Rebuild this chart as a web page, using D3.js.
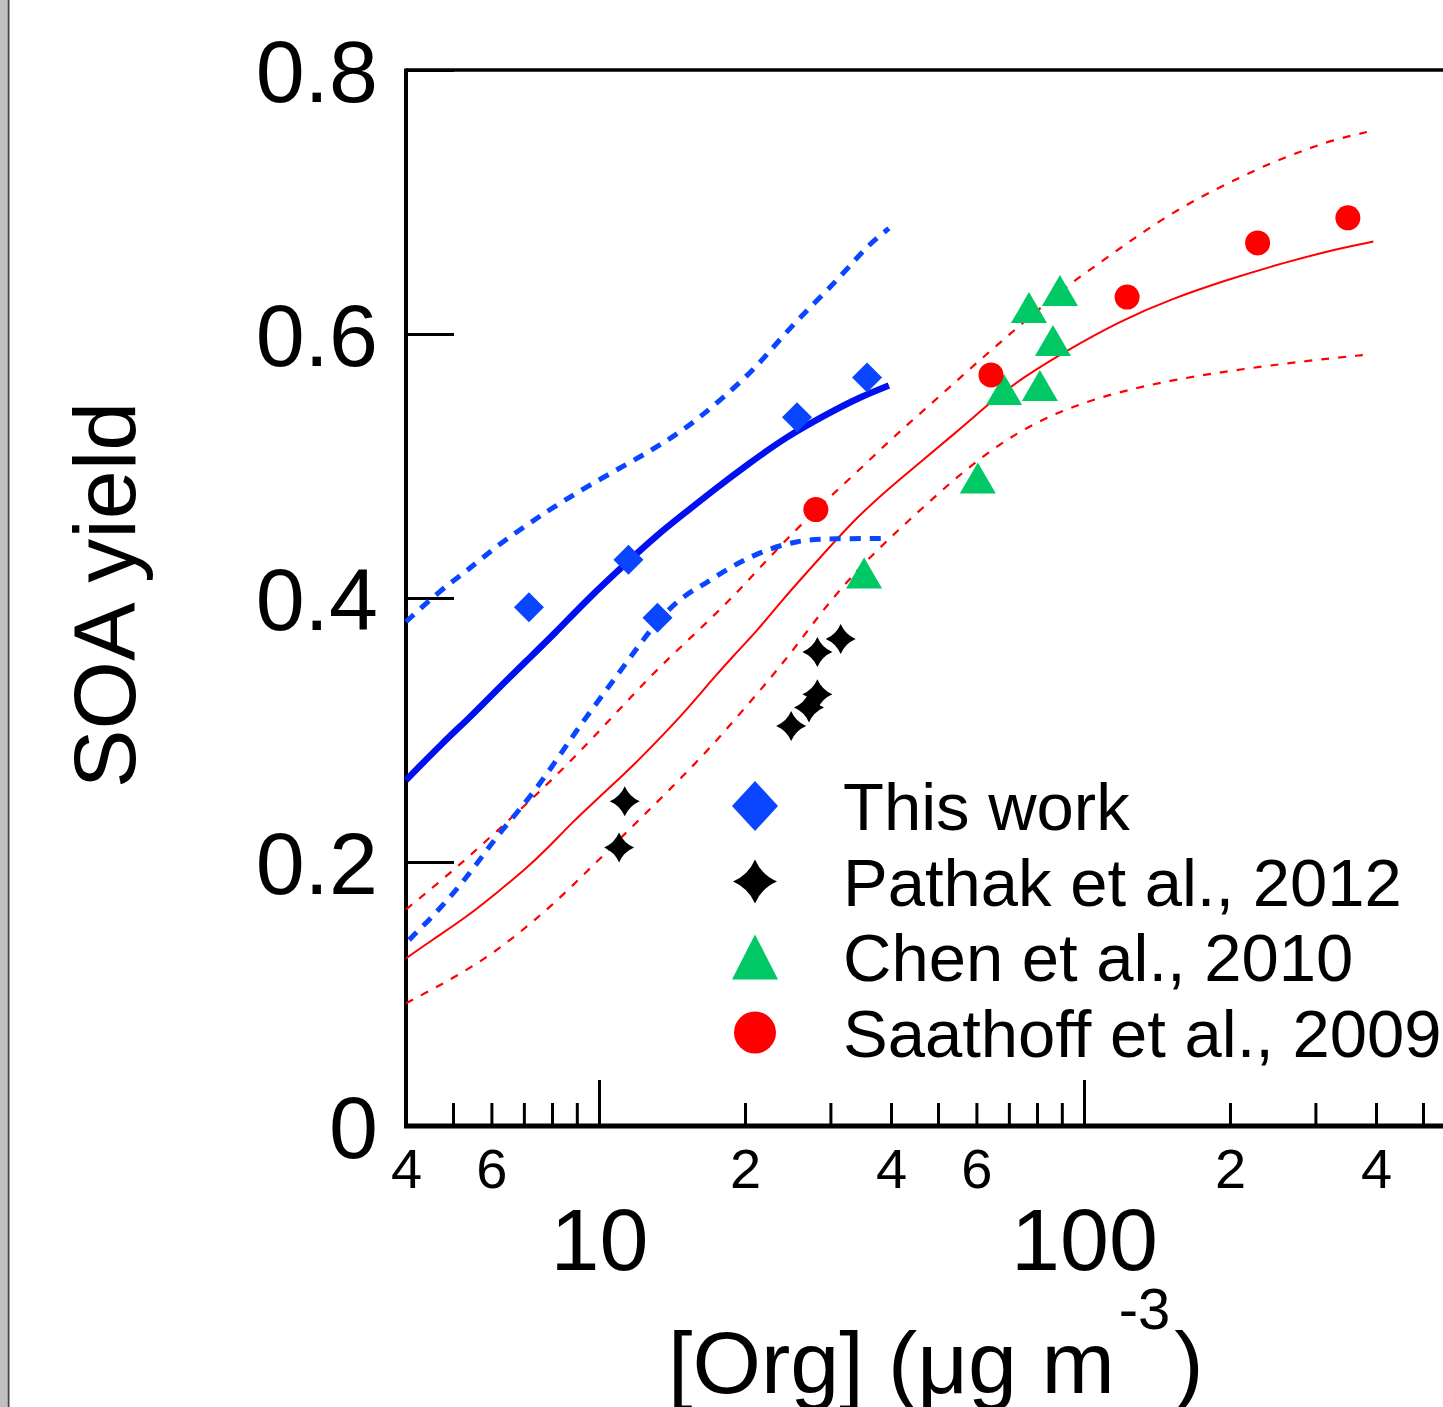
<!DOCTYPE html>
<html>
<head>
<meta charset="utf-8">
<script src="https://d3js.org/d3.v7.min.js"></script>
<style>
    html, body { margin: 0; padding: 0; background: #fff; }
    svg { display: block; font-family: "Liberation Sans", Arial, sans-serif; }
    .axis path.domain { display: none; }
    .axis line { stroke: #000; stroke-width: 3px; }
    .axis text { fill: #000; }
</style>
</head>
<body>
<svg id="chart" width="1443" height="1407"></svg>
<script>
// ---- data: [Org] (ug m-3), SOA yield ----
var thisWork = [[7.17, 0.393], [11.5, 0.429], [13.2, 0.385], [25.6, 0.537], [35.7, 0.567]];
var pathak = [[11.3, 0.246], [11.0, 0.211], [24.9, 0.303], [27.1, 0.317], [28.2, 0.327], [28.2, 0.359], [31.5, 0.369]];
var chen = [[35.2, 0.419], [60.4, 0.491], [68.4, 0.558], [81.1, 0.561], [77.0, 0.620], [86.3, 0.595], [89.2, 0.633]];
var saathoff = [[28.0, 0.467], [64.3, 0.569], [122.7, 0.628], [228, 0.669], [350, 0.688]];

// fitted curves (this work, blue) and confidence bands
var blueFit = [[4.0, 0.262], [4.75, 0.290], [5.47, 0.311], [6.22, 0.332], [7.07, 0.352], [8.15, 0.374],
    [9.4, 0.398], [11.5, 0.428], [13.1, 0.447], [15.1, 0.465], [17.4, 0.483], [20.4, 0.502],
    [24.3, 0.522], [29.4, 0.539], [34.4, 0.552], [39.6, 0.561]];
var blueUpper = [[4.0, 0.382], [4.75, 0.407], [5.32, 0.420], [6.13, 0.439], [7.27, 0.458], [8.0, 0.468],
    [9.4, 0.484], [11.5, 0.502], [13.7, 0.518], [16.1, 0.536], [20.1, 0.567], [22.4, 0.586],
    [25.5, 0.610], [31.3, 0.642], [35.5, 0.666], [39.6, 0.680]];
var blueLower = [[4.06, 0.141], [4.72, 0.165], [5.44, 0.192], [6.13, 0.219], [7.07, 0.245], [8.0, 0.272],
    [8.96, 0.299], [10.1, 0.325], [11.5, 0.353], [13.3, 0.385], [15.1, 0.403], [16.6, 0.411],
    [18.2, 0.421], [21.4, 0.435], [25.8, 0.444], [30.2, 0.445], [39.6, 0.445]];

// fitted curves (literature, red) and confidence bands
var redFit = [[4.0, 0.127], [4.53, 0.141], [5.32, 0.158], [6.22, 0.178], [7.07, 0.195], [7.77, 0.209],
    [8.8, 0.230], [10.0, 0.249], [11.7, 0.272], [13.7, 0.298], [15.3, 0.317], [17.1, 0.338],
    [18.8, 0.355], [21.4, 0.377], [23.8, 0.398], [28.0, 0.427], [33.9, 0.461], [41.0, 0.488],
    [55.2, 0.527], [64.9, 0.550], [74.8, 0.567], [92.6, 0.588], [119, 0.610], [150, 0.626],
    [197, 0.641], [258, 0.654], [337, 0.665], [395, 0.670]];
var redUpper = [[4.0, 0.164], [4.84, 0.189], [5.66, 0.211], [6.62, 0.234], [7.63, 0.255], [8.88, 0.279],
    [10.3, 0.304], [11.9, 0.329], [13.7, 0.352], [16.1, 0.376], [18.8, 0.400], [21.7, 0.425],
    [25.5, 0.452], [29.4, 0.474], [34.4, 0.497], [40.2, 0.521], [47.0, 0.543], [55.2, 0.566],
    [64.9, 0.589], [76.3, 0.611], [89.7, 0.633], [105, 0.651], [124, 0.670], [145, 0.687],
    [174, 0.704], [208, 0.718], [244, 0.730], [283, 0.739], [326, 0.747], [383, 0.753]];
var redLower = [[4.0, 0.093], [4.84, 0.109], [5.85, 0.127], [6.84, 0.146], [8.0, 0.167], [9.4, 0.192],
    [11.0, 0.217], [12.9, 0.242], [14.8, 0.264], [17.1, 0.288], [19.7, 0.314], [22.8, 0.341],
    [25.8, 0.366], [29.4, 0.394], [34.4, 0.423], [40.2, 0.447], [47.0, 0.470], [56.0, 0.495],
    [67.1, 0.517], [80.4, 0.534], [96.3, 0.546], [115, 0.555], [150, 0.565], [216, 0.574],
    [310, 0.581], [376, 0.584]];

var minorTicks = [5, 6, 7, 8, 9, 20, 30, 40, 50, 60, 70, 80, 90, 200, 300, 400, 500, 600, 700, 800, 900];
var majorTicks = [10, 100, 1000];
var smallLabels = [4, 6, 20, 40, 60, 200, 400];
var bigLabels = [10, 100];
var yTicks = [0, 0.2, 0.4, 0.6, 0.8];
var legendNames = ["This work", "Pathak et al., 2012", "Chen et al., 2010", "Saathoff et al., 2009"];

// ---- layout ----
var svg = d3.select("#chart");
var plotLeft = 406, plotTop = 70, plotBottom = 1126;

var x = d3.scaleLog().domain([4, 1000]).range([plotLeft, plotLeft + 485 * Math.log10(1000 / 4)]);
var y = d3.scaleLinear().domain([0, 0.8]).range([plotBottom, plotTop]);

// left window edge
svg.append("rect").attr("x", 0).attr("y", 0).attr("width", 7).attr("height", 1407).attr("fill", "#c0c0c0");
svg.append("line").attr("x1", 8.5).attr("x2", 8.5).attr("y1", 0).attr("y2", 1407)
    .attr("stroke", "#444").attr("stroke-width", 2);

// ---- axes ----
svg.append("g").attr("class", "axis").attr("transform", "translate(0," + plotBottom + ")")
    .call(d3.axisBottom(x).tickValues(minorTicks).tickSize(-23).tickFormat(""));
svg.append("g").attr("class", "axis").attr("transform", "translate(0," + plotBottom + ")")
    .call(d3.axisBottom(x).tickValues(majorTicks).tickSize(-46).tickFormat(""));

svg.append("g").attr("class", "axis").attr("transform", "translate(0," + plotBottom + ")")
    .call(d3.axisBottom(x).tickValues(smallLabels).tickSize(0).tickPadding(22)
        .tickFormat(function(d) { return String(d).charAt(0); }))
    .selectAll("text").style("font-size", "56px");
svg.append("g").attr("class", "axis").attr("transform", "translate(0," + plotBottom + ")")
    .call(d3.axisBottom(x).tickValues(bigLabels).tickSize(0).tickPadding(82).tickFormat(d3.format("d")))
    .selectAll("text").style("font-size", "88px");

svg.append("g").attr("class", "axis").attr("transform", "translate(" + plotLeft + ",0)")
    .call(d3.axisLeft(y).tickValues(yTicks).tickSize(-48).tickPadding(28)
        .tickFormat(function(d) { return d === 0 ? "0" : d3.format(".1f")(d); }))
    .selectAll("text").style("font-size", "88px").attr("dy", "0.36em");

// frame
svg.append("line").attr("x1", plotLeft).attr("x2", 1443).attr("y1", plotTop).attr("y2", plotTop)
    .attr("stroke", "#000").attr("stroke-width", 3.5);
svg.append("line").attr("x1", plotLeft).attr("x2", plotLeft).attr("y1", plotTop - 1.5).attr("y2", plotBottom + 2)
    .attr("stroke", "#000").attr("stroke-width", 4);
svg.append("line").attr("x1", plotLeft - 2).attr("x2", 1443).attr("y1", plotBottom).attr("y2", plotBottom)
    .attr("stroke", "#000").attr("stroke-width", 5);

// axis titles
svg.append("text").attr("transform", "translate(135,595) rotate(-90)")
    .attr("text-anchor", "middle").style("font-size", "88px").text("SOA yield");

var xt = svg.append("text").attr("x", 668).attr("y", 1393).style("font-size", "88px");
xt.append("tspan").text("[Org] (μg m");
xt.append("tspan").attr("dy", -64).attr("dx", 4).style("font-size", "58px").text("-3");
xt.append("tspan").attr("dy", 64).attr("dx", 4).text(")");

// ---- curves ----
var line = d3.line()
    .x(function(d) { return x(d[0]); })
    .y(function(d) { return y(d[1]); })
    .curve(d3.curveBasis);

var curves = [
    { data: redLower, color: "#ff0000", width: 2.2, dash: "8,9" },
    { data: redUpper, color: "#ff0000", width: 2.2, dash: "8,9" },
    { data: redFit, color: "#ff0000", width: 2, dash: null },
    { data: blueLower, color: "#0a46ff", width: 5, dash: "11,9" },
    { data: blueUpper, color: "#0a46ff", width: 5, dash: "11,9" },
    { data: blueFit, color: "#0010f0", width: 6.5, dash: null }
];
svg.append("g").selectAll("path").data(curves).enter().append("path")
    .attr("d", function(c) { return line(c.data); })
    .attr("fill", "none")
    .attr("stroke", function(c) { return c.color; })
    .attr("stroke-width", function(c) { return c.width; })
    .attr("stroke-dasharray", function(c) { return c.dash; });

// ---- marker shapes ----
function diamond(w, h) {
    return "M0," + (-h / 2) + "L" + (w / 2) + ",0L0," + (h / 2) + "L" + (-w / 2) + ",0Z";
}
function star(r) {
    var k = r * 0.3;
    return "M0," + (-r) + "Q" + k + "," + (-k) + " " + r + ",0Q" + k + "," + k + " 0," + r +
        "Q" + (-k) + "," + k + " " + (-r) + ",0Q" + (-k) + "," + (-k) + " 0," + (-r) + "Z";
}
function triangle(w, h) {
    return "M0," + (-h / 2) + "L" + (w / 2) + "," + (h / 2) + "L" + (-w / 2) + "," + (h / 2) + "Z";
}
function circle(r) {
    return "M" + r + ",0A" + r + "," + r + " 0 1,1 " + (-r) + ",0A" + r + "," + r + " 0 1,1 " + r + ",0Z";
}

var series = [
    { data: thisWork, color: "#0a46ff", shape: diamond(30, 30), legend: diamond(46, 50) },
    { data: pathak, color: "#000000", shape: star(15), legend: star(22) },
    { data: chen, color: "#00c864", shape: triangle(36, 31), legend: triangle(46, 45) },
    { data: saathoff, color: "#ff0000", shape: circle(12.5), legend: circle(21) }
];

series.forEach(function(s) {
    svg.append("g").selectAll("path").data(s.data).enter().append("path")
        .attr("transform", function(d) { return "translate(" + x(d[0]) + "," + y(d[1]) + ")"; })
        .attr("d", s.shape)
        .attr("fill", s.color);
});

// ---- legend ----
var legend = svg.append("g");
var rows = legend.selectAll("g").data(series).enter().append("g")
    .attr("transform", function(d, i) { return "translate(755," + (806 + i * 75.5) + ")"; });
rows.append("path").attr("d", function(d) { return d.legend; }).attr("fill", function(d) { return d.color; });
rows.append("text").attr("x", 88).attr("y", 24).style("font-size", "67px")
    .text(function(d, i) { return legendNames[i]; });
</script>
</body>
</html>
